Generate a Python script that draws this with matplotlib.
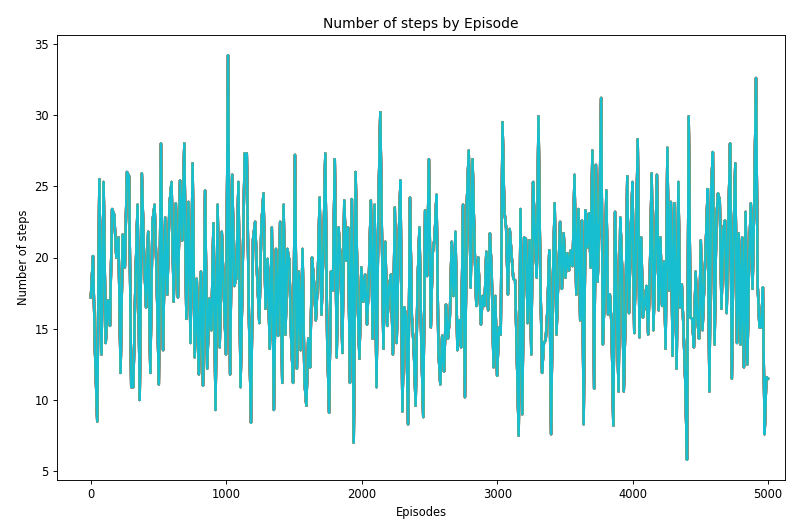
import numpy as np
import matplotlib
matplotlib.use("Agg")
import matplotlib.pyplot as plt

# Steps per episode in seven stretches of episodes
steps_seg1 = [17.2, 20.1, 13.2, 8.5, 25.5, 13.2, 25.3, 14.0, 17.0, 15.2, 23.4, 23.0, 20.0, 21.4, 11.9,
              21.6, 19.3, 26.0, 25.7, 10.9, 10.9, 18.4, 23.7, 10.0, 25.9, 20.3, 16.5, 21.8, 11.9, 22.5,
              23.7, 18.6, 11.1, 28.0, 13.5, 22.8, 17.4, 23.7, 25.3, 16.9, 23.8, 17.2, 25.4, 21.2, 28.0]
steps_seg2 = [15.7, 23.9, 14.0, 26.6, 13.0, 18.5, 11.8, 19.0, 11.0, 24.7, 12.2, 17.1, 14.9, 22.4, 9.3,
              23.7, 13.7, 21.8, 17.4, 13.2, 34.2, 11.8, 25.8, 18.0, 18.6, 25.3, 10.9, 19.1, 27.3, 27.3,
              16.1, 8.4, 21.3, 22.5, 18.6, 15.4, 22.3, 24.5, 16.4, 19.9, 13.6, 22.1, 9.3, 20.6, 14.5,
              22.5, 11.2]
steps_seg3 = [23.7, 14.6, 20.6, 19.8, 14.3, 11.2, 27.2, 12.2, 19.0, 13.5, 20.6, 11.3, 9.6, 14.3, 12.3,
              20.0, 18.3, 15.6, 18.3, 24.2, 16.0, 20.6, 27.3, 14.2, 9.1, 19.0, 17.7, 26.9, 13.0, 22.1,
              19.9, 13.3, 24.0, 19.8, 22.1, 11.2, 24.1, 7.0, 26.0, 17.3, 12.9, 19.3, 16.9, 18.8, 15.3,
              18.6, 24.0, 14.3, 23.7, 10.9, 23.4, 30.2]
steps_seg4 = [13.6, 21.1, 15.2, 18.0, 18.8, 13.2, 23.5, 14.0, 21.0, 25.4, 9.2, 16.5, 15.8, 8.3, 24.2,
              15.8, 13.7, 9.6, 18.1, 22.1, 13.9, 8.8, 23.3, 18.7, 26.9, 15.1, 20.3, 21.4, 24.4, 13.5,
              11.1, 14.5, 12.0, 16.7, 14.3, 15.7, 21.1, 17.3, 21.8, 13.5, 15.6, 13.7, 23.7, 10.2, 23.8,
              27.5, 17.9, 26.9, 21.2, 16.6, 20.0]
steps_seg5 = [15.3, 17.3, 16.6, 20.4, 16.3, 21.7, 18.8, 12.3, 17.3, 11.7, 15.1, 14.6, 29.5, 23.3, 22.1,
              17.4, 22.0, 20.3, 18.5, 18.4, 12.9, 7.5, 23.4, 9.0, 21.4, 21.3, 15.4, 21.2, 13.2, 25.3,
              21.7, 18.6, 29.9, 18.8, 11.9, 14.0, 14.2, 16.4, 20.5, 7.6, 18.4, 23.8, 14.6, 18.5, 22.5,
              17.8, 21.7, 18.6, 20.3, 19.1, 20.5, 19.4, 25.8, 17.4]
steps_seg6 = [23.4, 15.6, 22.6, 8.3, 23.3, 20.7, 23.1, 19.3, 27.5, 10.8, 26.5, 18.3, 22.6, 31.2, 13.9,
              17.3, 24.7, 16.0, 17.4, 15.2, 8.2, 23.2, 16.6, 10.6, 22.8, 19.3, 10.6, 16.0, 25.7, 16.1,
              21.7, 25.3, 14.7, 20.7, 28.3, 14.4, 21.4, 15.8, 16.7, 18.0, 14.6, 19.1, 25.9, 14.9, 19.8,
              25.8, 16.3, 21.4, 16.6, 19.7, 13.6, 27.7, 17.7, 23.9, 13.1, 23.8]
steps_seg7 = [12.2, 25.3, 16.5, 18.1, 14.9, 11.3, 5.8, 29.9, 15.8, 15.7, 13.7, 19.0, 15.7, 14.3, 21.2,
              14.9, 18.1, 21.2, 24.8, 10.6, 24.8, 27.4, 13.9, 22.6, 24.5, 24.0, 16.4, 21.9, 22.6, 16.1,
              22.6, 28.0, 11.5, 21.4, 26.6, 14.0, 21.7, 13.9, 21.4, 12.3, 23.2, 12.5, 19.8, 23.8, 17.8,
              23.9, 32.6, 18.0, 15.1, 15.1, 17.9, 7.6, 11.6, 11.5]

# first and last episode of each stretch
seg_first = [0, 705, 1423, 2160, 2880, 3600, 4325]
seg_last = [690, 1413, 2137, 2860, 3584, 4308, 5000]

segments = [steps_seg1, steps_seg2, steps_seg3, steps_seg4, steps_seg5, steps_seg6, steps_seg7]
episodes = np.concatenate([np.linspace(a, b, len(s)) for a, b, s in zip(seg_first, seg_last, segments)])
steps = np.concatenate(segments)

dpi = 83
fig = plt.figure(figsize=(798 / dpi, 523 / dpi), dpi=dpi)
ax = fig.add_axes([57 / 798, 1 - 480 / 523, 728 / 798, 445 / 523])

# the same curve drawn once per colour of the default cycle, cyan ends on top
for i in range(10):
    ax.plot(episodes, steps, lw=2.1)

ax.set_xlim(-250, 5125)
ax.set_title('Number of steps by Episode')
ax.set_xlabel('Episodes')
ax.set_ylabel('Number of steps')

fig.savefig('out.png', dpi=dpi)
